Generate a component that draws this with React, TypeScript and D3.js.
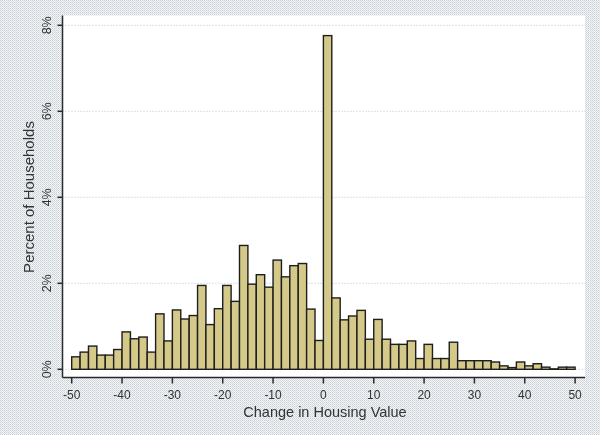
import React from "react";
import * as d3 from "d3";

// Percent of households in each bin (bins of width 5/3 from -50 to 50)
const percents: number[] = [
  0.29, 0.40, 0.54, 0.33, 0.33, 0.46, 0.87, 0.71, 0.75, 0.40,
  1.29, 0.66, 1.38, 1.17, 1.25, 1.95, 1.04, 1.41, 1.95, 1.58,
  2.88, 1.98, 2.20, 1.91, 2.54, 2.15, 2.41, 2.46, 1.40, 0.67,
  7.76, 1.66, 1.15, 1.24, 1.37, 0.70, 1.16, 0.70, 0.58, 0.58,
  0.66, 0.25, 0.58, 0.25, 0.25, 0.63, 0.20, 0.20, 0.20, 0.20,
  0.17, 0.08, 0.04, 0.17, 0.08, 0.13, 0.05, 0.01, 0.05, 0.05,
];
const binStart = -50;
const binEnd = 50;
const xTicks: number[] = [-50, -40, -30, -20, -10, 0, 10, 20, 30, 40, 50];
const yTicks: number[] = [0, 2, 4, 6, 8];
const xTitle = "Change in Housing Value";
const yTitle = "Percent of Households";

const W = 600;
const H = 435;

export default function App() {
  const binW = (binEnd - binStart) / percents.length;
  const x = d3.scaleLinear().domain([-50, 50]).range([71.7, 575.1]);
  const y = d3.scaleLinear().domain([0, 8]).range([369.3, 25.3]);
  const plotL = 62.5, plotR = 585, plotT = 15.5, plotB = 377.5;
  const font = "'Liberation Sans', Arial, sans-serif";

  return (
    <div style={{ position: "fixed", left: 0, top: 0 }}>
      <svg width={W} height={H} xmlns="http://www.w3.org/2000/svg" style={{ display: "block" }}>
        <defs>
          <pattern id="dither" width="2" height="2" patternUnits="userSpaceOnUse">
            <rect width="2" height="2" fill="#f4f5f7" />
            <rect width="1" height="1" fill="#c8d0d9" />
            <rect x="1" y="1" width="1" height="1" fill="#d8dde2" />
          </pattern>
        </defs>
        <rect width={W} height={H} fill="url(#dither)" />
        <rect x={plotL} y={plotT} width={plotR - plotL} height={plotB - plotT} fill="#ffffff" />
        {yTicks.map((t) => (
          <line key={"g" + t} x1={plotL} x2={plotR} y1={y(t)} y2={y(t)}
            stroke="#b9c4cf" strokeWidth={1} strokeDasharray="1,2" />
        ))}
        {percents.map((p, i) => {
          const x0 = x(binStart + i * binW);
          const x1 = x(binStart + (i + 1) * binW);
          return (
            <rect key={i} x={x0} y={y(p)} width={x1 - x0} height={y(0) - y(p)}
              fill="#d5c98a" stroke="#1e1e1e" strokeWidth={1.4} />
          );
        })}
        <line x1={plotL} x2={plotL} y1={plotT} y2={plotB} stroke="#2a2a2a" strokeWidth={1.5} />
        <line x1={plotL} x2={plotR} y1={plotB} y2={plotB} stroke="#2a2a2a" strokeWidth={1.5} />
        {yTicks.map((t) => (
          <g key={"y" + t}>
            <line x1={plotL - 5} x2={plotL} y1={y(t)} y2={y(t)} stroke="#2a2a2a" strokeWidth={1.5} />
            <text transform={`translate(51,${y(t)}) rotate(-90)`} textAnchor="middle"
              fontFamily={font} fontSize={12.5} fill="#333">{`${t}%`}</text>
          </g>
        ))}
        {xTicks.map((t) => (
          <g key={"x" + t}>
            <line x1={x(t)} x2={x(t)} y1={plotB} y2={plotB + 6} stroke="#2a2a2a" strokeWidth={1.5} />
            <text x={x(t)} y={398.5} textAnchor="middle" fontFamily={font} fontSize={12} fill="#333">
              {t < 0 ? `-${Math.abs(t)}` : `${t}`}
            </text>
          </g>
        ))}
        <text x={325} y={416.5} textAnchor="middle" fontFamily={font} fontSize={14.5} fill="#333">{xTitle}</text>
        <text transform={`translate(34,197) rotate(-90)`} textAnchor="middle" fontFamily={font}
          fontSize={15} fill="#333">{yTitle}</text>
      </svg>
    </div>
  );
}
